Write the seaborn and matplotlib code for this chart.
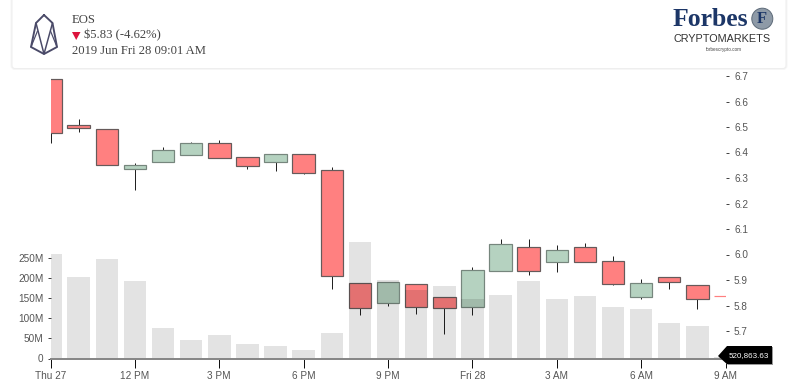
import numpy as np
import pandas as pd
import matplotlib
matplotlib.use('Agg')
import matplotlib.pyplot as plt
from matplotlib.patches import FancyBboxPatch, Circle, Polygon
import seaborn as sns

hours = list(range(25))
opens = [6.69, 6.507, 6.493, 6.336, 6.364, 6.389, 6.437, 6.382, 6.364, 6.395, 6.33, 5.887, 5.811,
         5.884, 5.832, 5.793, 5.937, 6.031, 5.969, 6.031, 5.976, 5.835, 5.91, 5.88, 5.836]
closes = [6.475, 6.497, 6.35, 6.35, 6.41, 6.436, 6.377, 6.346, 6.393, 6.321, 5.914, 5.789, 5.891,
          5.793, 5.789, 5.939, 6.041, 5.937, 6.019, 5.969, 5.883, 5.887, 5.893, 5.825, 5.836]
highs = [6.69, 6.53, 6.493, 6.358, 6.42, 6.44, 6.449, 6.382, 6.393, 6.395, 6.342, 5.887, 5.891,
         5.884, 5.832, 5.951, 6.061, 6.061, 6.036, 6.046, 5.994, 5.903, 5.91, 5.88, 5.836]
lows = [6.436, 6.48, 6.35, 6.253, 6.364, 6.389, 6.377, 6.336, 6.327, 6.314, 5.863, 5.763, 5.798,
        5.768, 5.688, 5.764, 5.937, 5.921, 5.93, 5.969, 5.88, 5.825, 5.866, 5.786, 5.836]
volumes = [260.6, 204, 248, 193, 76, 46, 58.6, 35, 31, 20, 63.6, 291, 197,
           171, 181, 148, 159, 194, 149, 156, 128, 124, 88.5, 81, 4]

price_ticks = [5.7, 5.8, 5.9, 6.0, 6.1, 6.2, 6.3, 6.4, 6.5, 6.6, 6.7]
volume_ticks = [0, 50, 100, 150, 200, 250]
volume_labels = ['0', '50M', '100M', '150M', '200M', '250M']
time_ticks = [0, 3, 6, 9, 12, 15, 18, 21, 24]
time_labels = ['Thu 27', '12 PM', '3 PM', '6 PM', '9 PM', 'Fri 28', '3 AM', '6 AM', '9 AM']
last_volume = '520,863.63'

df = pd.DataFrame({'hour': hours, 'open': opens, 'close': closes, 'high': highs, 'low': lows, 'volume': volumes})
df['bottom'] = df[['open', 'close']].min(axis=1)
df['height'] = (df['open'] - df['close']).abs()
red = df[df['close'] <= df['open']]
green = df[df['close'] > df['open']]

sns.set_theme(style='white')
plt.rcParams['font.family'] = ['Liberation Sans', 'DejaVu Sans']

W, H = 800, 382
fig = plt.figure(figsize=(8, 3.82), dpi=100)
px = 72 / 100  # one pixel in points

# plot area in pixels: x 50.5-725.5, y 70-358.5
ax = fig.add_axes([50.5 / W, 1 - 358.5 / H, 675 / W, 288.5 / H])
ax_vol = ax.twinx()

ax.vlines(df['hour'], df['low'], df['high'], color='#222222', lw=1 * px, zorder=1)
sns.barplot(x=green['hour'], y=green['height'], bottom=green['bottom'].values, native_scale=True, ax=ax,
            color='#b5d2c0', saturation=1, width=0.8, errorbar=None, edgecolor='#76867d', linewidth=1.2 * px, zorder=2)
sns.barplot(x=red['hour'], y=red['height'], bottom=red['bottom'].values, native_scale=True, ax=ax,
            color='#ff8080', saturation=1, width=0.8, errorbar=None, edgecolor='#665a5a', linewidth=1.2 * px, zorder=2)
ax.patches[-1].set_edgecolor('#ff8080')

sns.barplot(x=df['hour'], y=df['volume'], native_scale=True, ax=ax_vol, color='black', saturation=1,
            width=0.8, errorbar=None, alpha=0.11, linewidth=0)

ax.set_xlim(0, 24)
ax.set_ylim(6.7 - (358.5 - 76) / 255, 6.7 + (76 - 70) / 255)
ax_vol.set_ylim(0, 288.5 / 20.05 * 50)

ax.yaxis.tick_right()
ax.set_yticks(price_ticks)
ax.set_yticklabels([f'{v:.1f}' for v in price_ticks])
ax.set_xticks(time_ticks)
ax.set_xticklabels(time_labels)
ax.tick_params(axis='y', length=3 * px, width=1 * px, color='#444444', labelcolor='#555555', labelsize=7.2, pad=4,
               left=False, right=True, labelleft=False, labelright=True)
ax.tick_params(axis='x', length=9 * px, width=1 * px, color='#111111', labelcolor='#555555', labelsize=7.2, pad=2.2,
               bottom=True)
ax_vol.yaxis.tick_left()
ax_vol.set_yticks(volume_ticks)
ax_vol.set_yticklabels(volume_labels)
ax_vol.tick_params(axis='y', length=3 * px, width=1 * px, color='#444444', labelcolor='#555555', labelsize=7.2, pad=3,
                   left=True, right=False)

ax.set_xlabel('')
ax.set_ylabel('')
ax_vol.set_ylabel('')
ax.set_facecolor('none')
sns.despine(ax=ax, left=True, right=True, top=True, bottom=True)
sns.despine(ax=ax_vol, left=True, right=True, top=True, bottom=False)
ax_vol.spines['bottom'].set_color('#888888')
ax_vol.spines['bottom'].set_linewidth(2 * px)

# overlay in pixel coordinates for header card, logos and the volume tag
ov = fig.add_axes([0, 0, 1, 1], zorder=5)
ov.set_xlim(0, W)
ov.set_ylim(H, 0)
ov.axis('off')

ov.add_patch(FancyBboxPatch((12, -10), 774, 78.5, boxstyle='round,pad=0,rounding_size=3',
                            fc='white', ec='#f6f6f6', lw=3 * px))
ov.add_patch(FancyBboxPatch((12, -10), 774, 78.5, boxstyle='round,pad=0,rounding_size=3',
                            fc='white', ec='#eeeeee', lw=1 * px))

# EOS logo
logo = '#4a4a68'
ov.plot([44, 36, 31, 44, 57, 52.5, 44], [15, 23, 47, 54, 47, 23, 15], color=logo, lw=1.9 * px, solid_joinstyle='round')
ov.plot([36, 44, 52.5], [23, 54, 23], color=logo, lw=1.5 * px)
ov.plot([31, 37.5], [47, 31], color=logo, lw=1.2 * px)
ov.plot([57, 50.5], [47, 31], color=logo, lw=1.2 * px)

head = dict(family=['Liberation Serif', 'DejaVu Serif'], fontsize=9.1, color='#444444', va='center', ha='left')
ov.text(72, 20, 'EOS', **head)
ov.text(83.5, 35.5, '$5.83 (-4.62%)', **head)
ov.text(72, 51, '2019 Jun Fri 28 09:01 AM', **head)
ov.add_patch(Polygon([(72, 32), (80.5, 32), (76.2, 40)], fc='#dc143c', ec='none'))

# Forbes logo
ov.text(710.5, 19, 'Forbes', family=['Liberation Serif', 'DejaVu Serif'], weight='bold', fontsize=18.5,
        color='#1c3667', ha='center', va='center')
ov.add_patch(Circle((762.3, 18.7), 10.5, fc='#8e9aa7', ec='#5f6c7a', lw=1 * px))
ov.text(762.3, 18.7, 'F', family=['Liberation Serif', 'DejaVu Serif'], weight='bold', fontsize=12,
        color='#1c3667', ha='center', va='center')
ov.text(722.5, 39, 'CRYPTOMARKETS', fontsize=7.8, color='#333333', ha='center', va='center')
ov.text(723.5, 49.5, 'forbescrypto.com', fontsize=3.3, color='#444444', ha='center', va='center')

# last volume tag
tag = [(718, 356), (727, 346), (772, 346), (772, 364), (727, 364)]
ov.add_patch(Polygon([(x + 1, y + 1) for x, y in tag], fc='#999999', ec='none'))
ov.add_patch(Polygon(tag, fc='black', ec='none'))
ov.text(748.5, 356, last_volume, fontsize=5.8, color='white', ha='center', va='center')

fig.savefig('out.png', dpi=100)
